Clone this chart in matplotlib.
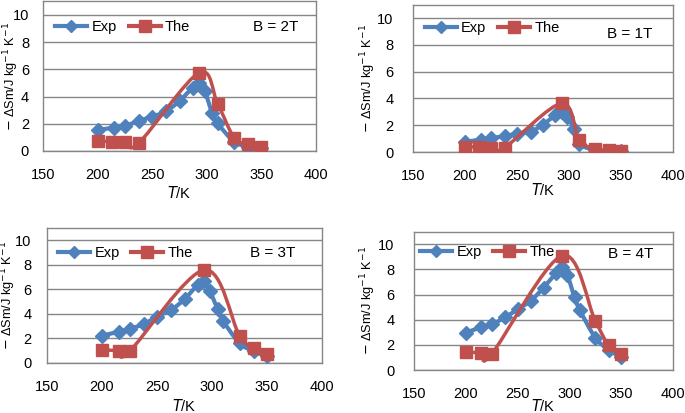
import matplotlib
matplotlib.use('Agg')
import numpy as np
import matplotlib.pyplot as plt
from matplotlib.path import Path
from matplotlib.patches import PathPatch
from matplotlib.lines import Line2D

plt.rcParams['font.family'] = ['Liberation Sans', 'DejaVu Sans']
plt.rcParams['font.size'] = 10

# ---- data ----
T_exp = [200, 215, 225, 238, 250, 263, 275, 287, 293, 298, 305, 310, 325, 338, 350]
exp_1T = [0.75, 0.93, 1.05, 1.18, 1.38, 1.50, 2.05, 2.75, 3.00, 2.58, 1.75, 0.62, 0.12, 0.06, 0.04]
exp_2T = [1.54, 1.72, 1.84, 2.23, 2.52, 2.94, 3.68, 4.66, 5.02, 4.44, 2.77, 2.03, 0.69, 0.32, 0.20]
exp_3T = [2.22, 2.54, 2.78, 3.16, 3.78, 4.32, 5.19, 6.35, 6.68, 5.89, 4.38, 3.43, 1.62, 0.95, 0.54]
exp_4T = [2.97, 3.40, 3.63, 4.19, 4.83, 5.52, 6.55, 7.69, 8.17, 7.56, 5.78, 4.77, 2.57, 1.60, 1.00]

T_the_lo = [200, 213, 225, 238, 293, 310, 325, 338, 350]
the_1T = [0.38, 0.38, 0.33, 0.33, 3.63, 0.88, 0.25, 0.12, 0.08]
the_2T = [0.74, 0.69, 0.64, 0.61, 5.76, 3.46, 0.98, 0.49, 0.32]
T_the_hi = [200, 215, 225, 293, 325, 338, 350]
the_3T = [1.08, 1.00, 0.95, 7.57, 2.22, 1.22, 0.73]
the_4T = [1.45, 1.35, 1.28, 9.10, 3.90, 1.95, 1.25]

# label, exp, the_T, the, axes rect px (left, top, right, bottom),
# legend anchor, B-label pos, ylabel x, xlabel y (axes coords), ytick pad
panels = [
    ('B = 2T', exp_2T, T_the_lo, the_2T, (43, 1.4, 316, 151), (0.045, 0.83), (0.934, 0.83), -0.082, -0.227, 10),
    ('B = 1T', exp_1T, T_the_lo, the_1T, (413, 4.6, 673, 152), (0.045, 0.84), (0.92, 0.80), -0.135, -0.204, 14),
    ('B = 3T', exp_3T, T_the_hi, the_3T, (47, 227.7, 322, 363), (0.04, 0.815), (0.905, 0.815), -0.105, -0.258, 11),
    ('B = 4T', exp_4T, T_the_hi, the_4T, (414, 231.7, 673, 370), (0.023, 0.85), (0.923, 0.84), -0.139, -0.20, 14),
]

W, H = 685, 413
blue = '#4F81BD'
red = '#C0504D'
grey = '#868686'


def smooth_path(x, y):
    # excel-like smoothed line: cubic bezier, catmull-rom control points
    p = np.column_stack([x, y]).astype(float)
    n = len(p)
    verts = [p[0]]
    codes = [Path.MOVETO]
    for i in range(n - 1):
        p0 = p[i - 1] if i > 0 else p[i]
        p3 = p[i + 2] if i + 2 < n else p[i + 1]
        c1 = p[i] + (p[i + 1] - p0) / 6.0
        c2 = p[i + 1] - (p3 - p[i]) / 6.0
        verts += [c1, c2, p[i + 1]]
        codes += [Path.CURVE4] * 3
    return Path(verts, codes)


fig = plt.figure(figsize=(W / 100.0, H / 100.0), dpi=100)

for label, ye, tt, yt, (l, t, r, b), leg_xy, b_xy, ylx, xly, ypad in panels:
    ax = fig.add_axes([l / W, 1 - b / H, (r - l) / W, (b - t) / H])
    ax.set_xlim(150, 400)
    ax.set_ylim(0, 11)
    ax.set_xticks([150, 200, 250, 300, 350, 400])
    ax.set_yticks([0, 2, 4, 6, 8, 10])
    ax.yaxis.grid(True, color=grey, lw=1)
    ax.set_axisbelow(True)
    for s in ax.spines.values():
        s.set_color(grey)
        s.set_linewidth(1)
    ax.tick_params(length=0, labelsize=10.5)
    ax.tick_params(axis='x', pad=12)
    ax.tick_params(axis='y', pad=ypad)

    ax.add_patch(PathPatch(smooth_path(T_exp, ye), fc='none', ec=blue, lw=3, zorder=3))
    ax.plot(T_exp, ye, ls='none', marker='D', ms=7, color=blue, zorder=4)
    ax.add_patch(PathPatch(smooth_path(tt, yt), fc='none', ec=red, lw=2.5, zorder=5))
    ax.plot(tt, yt, ls='none', marker='s', ms=9, color=red, zorder=6)

    h1 = Line2D([], [], color=blue, lw=3, marker='D', ms=6)
    h2 = Line2D([], [], color=red, lw=3, marker='s', ms=8)
    ax.legend([h1, h2], ['Exp', 'The'], loc='center left', bbox_to_anchor=leg_xy,
              ncol=2, frameon=False, handlelength=2.2, handletextpad=0.3,
              columnspacing=0.8, fontsize=10.5, borderaxespad=0, borderpad=0)
    ax.text(b_xy[0], b_xy[1], label, transform=ax.transAxes, ha='right', va='center', fontsize=11)

    ax.set_xlabel('$T$/K', fontsize=10.5)
    ax.xaxis.set_label_coords(0.5, xly)
    ax.set_ylabel('$-$ ΔSm/J kg$^{-1}$ K$^{-1}$', fontsize=9.2)
    ax.yaxis.set_label_coords(ylx, 0.5)

fig.savefig('out.png', dpi=100)
